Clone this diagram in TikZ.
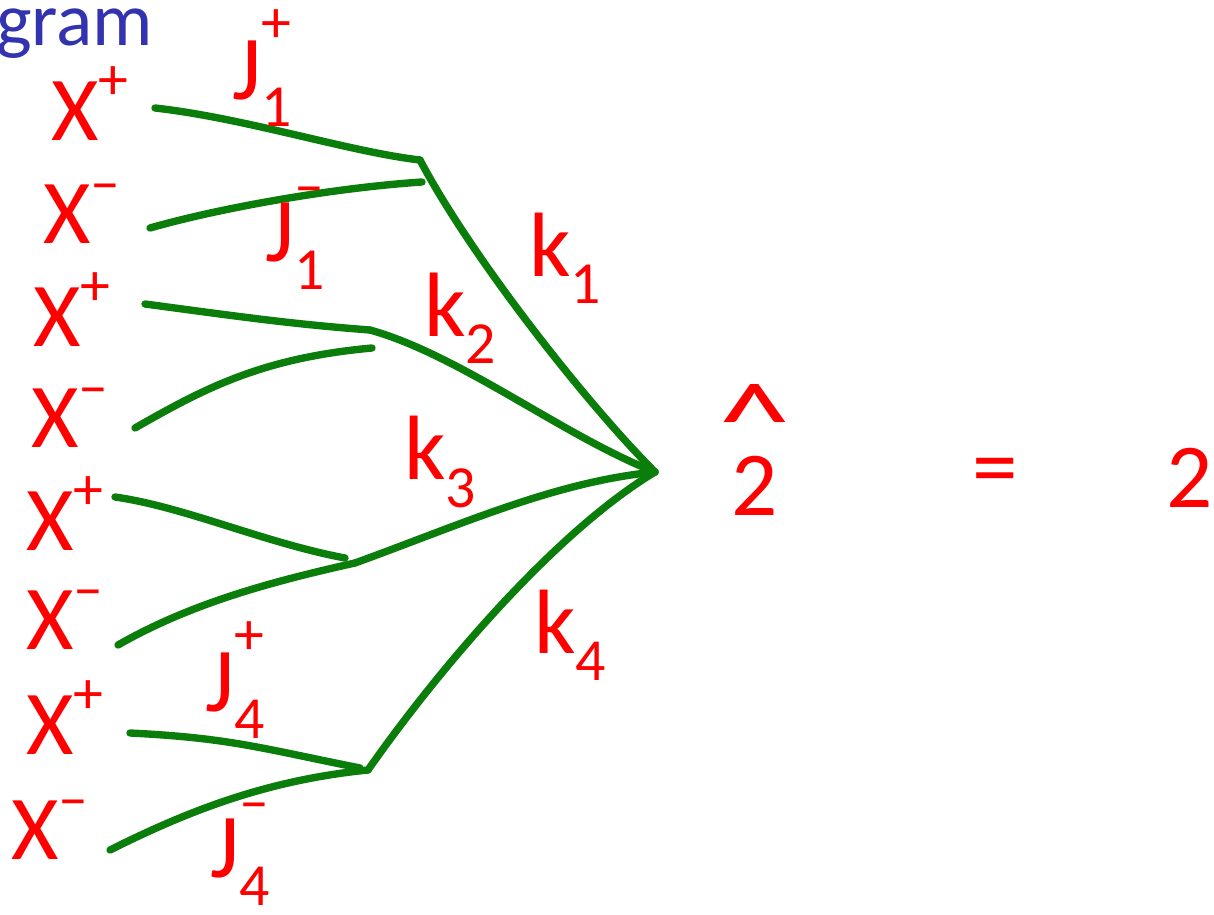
\documentclass[tikz,border=0pt]{standalone}
\usepackage{fontspec}
\setmainfont{Carlito}
\definecolor{propgreen}{RGB}{10,125,10}
\definecolor{titleblue}{RGB}{51,51,175}
% J with a sign above and an index below
\newcommand{\jlab}[2]{J\rlap{\raisebox{0.62em}{\fontsize{34}{36}\selectfont#2}}\raisebox{-0.3em}{\fontsize{34}{36}\selectfont#1}}
\newcommand{\xlab}[1]{X\raisebox{0.45em}{\fontsize{34}{36}\selectfont#1}}
\newcommand{\klab}[1]{k\raisebox{-0.3em}{\fontsize{34}{36}\selectfont#1}}

\begin{document}
\begin{tikzpicture}[x=0.02cm,y=-0.02cm,
  prop/.style={draw=propgreen,line width=4.2pt,line cap=round},
  lab/.style={text=red,font=\fontsize{52}{56}\selectfont,inner sep=0pt}]
\useasboundingbox (0,0) rectangle (1214,915);

\node[anchor=base west,text=titleblue,font=\fontsize{43}{46}\selectfont,inner sep=0pt] (title) at (-4,46) {gram};

% external legs
\node[lab] (x1) at (90,104) {\xlab{+}};
\node[lab] (x2) at (82,214) {\xlab{\textendash}};
\node[lab] (x3) at (72,310) {\xlab{+}};
\node[lab] (x4) at (70,418) {\xlab{\textendash}};
\node[lab] (x5) at (65,514) {\xlab{+}};
\node[lab] (x6) at (65,620) {\xlab{\textendash}};
\node[lab] (x7) at (65,718) {\xlab{+}};
\node[lab] (x8) at (50,830) {\xlab{\textendash}};

\coordinate (e1) at (155,108);
\coordinate (e2) at (150,228);
\coordinate (e3) at (145,304);
\coordinate (e4) at (135,428);
\coordinate (e5) at (115,497);
\coordinate (e6) at (118,645);
\coordinate (e7) at (130,733);
\coordinate (e8) at (110,850);

% vertices
\coordinate (v1) at (420,160);
\coordinate (v1b) at (422,182);
\coordinate (v2) at (370,330);
\coordinate (v2b) at (372,348);
\coordinate (v3) at (345,558);
\coordinate (v3b) at (355,563);
\coordinate (v4) at (360,768);
\coordinate (v4b) at (368,770);
\coordinate (c) at (655,472);

\draw[prop] (e1) .. controls +(90,10) and +(-70,-8) .. (v1);
\draw[prop] (e2) .. controls +(70,-20) and +(-90,6) .. (v1b);
\draw[prop] (e3) .. controls +(90,12) and +(-80,-6) .. (v2);
\draw[prop] (e4) .. controls +(70,-40) and +(-110,10) .. (v2b);
\draw[prop] (e5) .. controls +(70,10) and +(-80,-15) .. (v3);
\draw[prop] (e6) .. controls +(70,-40) and +(-90,20) .. (v3b);
\draw[prop] (e7) .. controls +(100,5) and +(-100,-20) .. (v4);
\draw[prop] (e8) .. controls +(80,-40) and +(-100,10) .. (v4b);

\draw[prop] (v1) .. controls +(50,95) and +(-70,-70) .. (c);
\draw[prop] (v2) .. controls +(90,25) and +(-90,-35) .. (c);
\draw[prop] (v3b) .. controls +(110,-40) and +(-100,10) .. (c);
\draw[prop] (v4b) .. controls +(70,-100) and +(-100,60) .. (c);

% momentum labels
\node[lab] (j1p) at (262,68) {\jlab{1}{+}};
\node[lab] (j1m) at (295,238) {\jlab{1}{\textendash}};
\node[lab] (k1) at (565,258) {\klab{1}};
\node[lab] (k2) at (460,318) {\klab{2}};
\node[lab] (k3) at (440,462) {\klab{3}};
\node[lab] (k4) at (570,635) {\klab{4}};
\node[lab] (j4p) at (235,680) {\jlab{4}{+}};
\node[lab] (j4m) at (240,854) {\jlab{4}{\textendash}};

% result
\node[lab] (res) at (755,450) {\shortstack{\scalebox{1.6}[1.2]{\textasciicircum}\\[-4pt]2}};
\node[lab] (eq) at (995,478) {=};
\node[lab] (two) at (1190,478) {2};
\end{tikzpicture}
\end{document}
